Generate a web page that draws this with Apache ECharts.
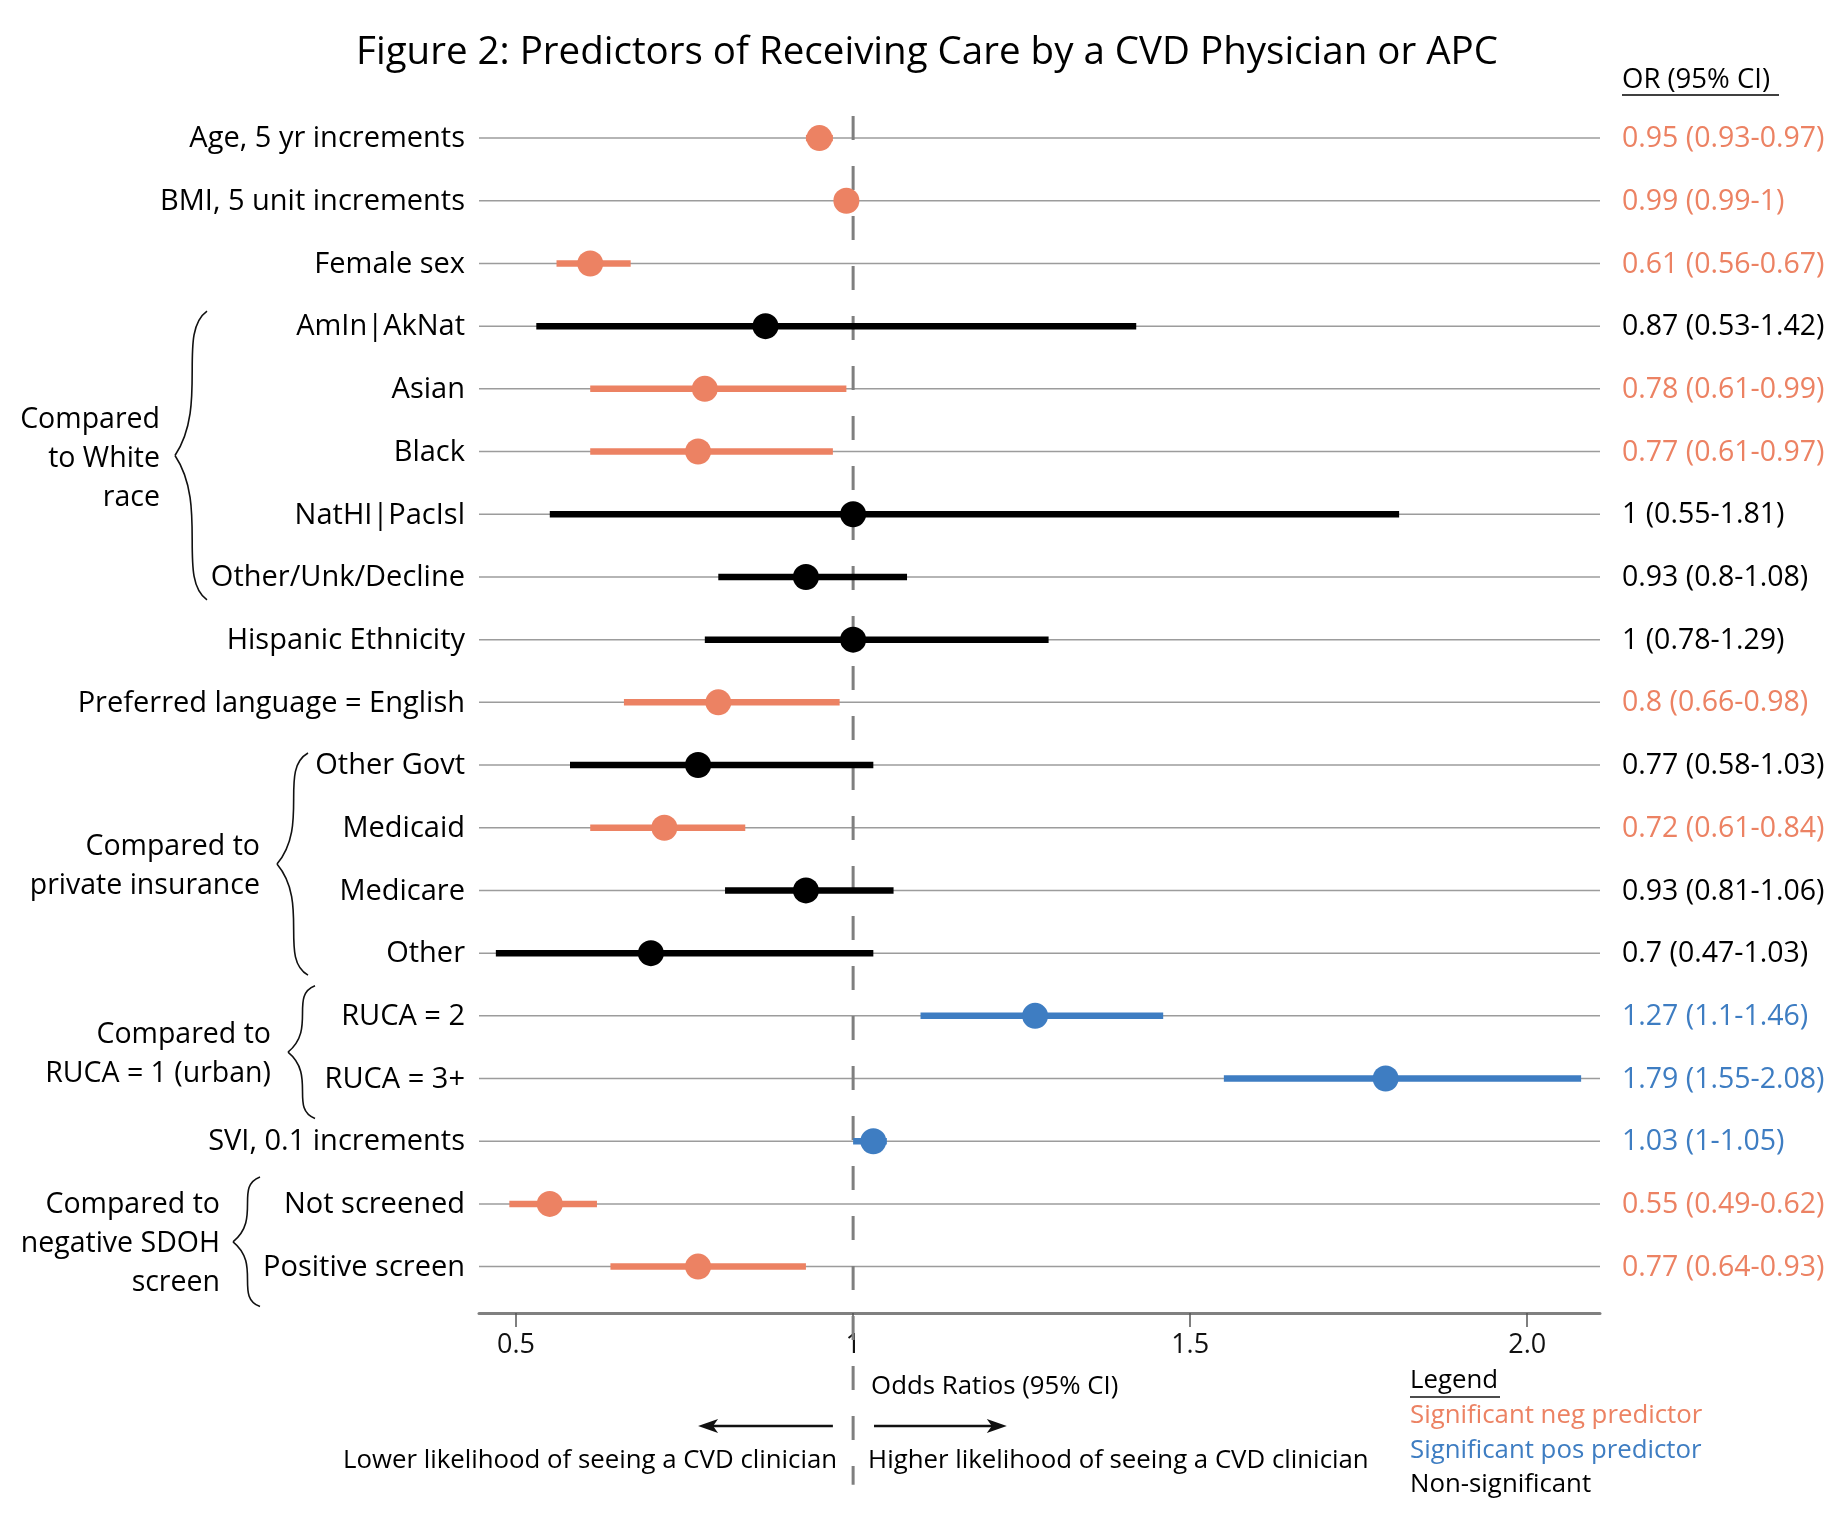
<!DOCTYPE html>
<html><head><meta charset="utf-8">
<script src="https://cdn.jsdelivr.net/npm/echarts@6/dist/echarts.min.js"></script>
<style>html,body{margin:0;padding:0;background:#fff}#c{width:1833px;height:1513px}</style>
</head><body><div id="c"></div>
<script>
// ---------- DATA ----------
const categories = ['Age, 5 yr increments','BMI, 5 unit increments','Female sex','AmIn|AkNat','Asian','Black','NatHI|PacIsl','Other/Unk/Decline','Hispanic Ethnicity','Preferred language = English','Other Govt','Medicaid','Medicare','Other','RUCA = 2','RUCA = 3+','SVI, 0.1 increments','Not screened','Positive screen'];
const oddsRatio = [0.95,0.99,0.61,0.87,0.78,0.77,1,0.93,1,0.8,0.77,0.72,0.93,0.7,1.27,1.79,1.03,0.55,0.77];
const ciLow  = [0.93,0.99,0.56,0.53,0.61,0.61,0.55,0.8,0.78,0.66,0.58,0.61,0.81,0.47,1.1,1.55,1,0.49,0.64];
const ciHigh = [0.97,1,0.67,1.42,0.99,0.97,1.81,1.08,1.29,0.98,1.03,0.84,1.06,1.03,1.46,2.08,1.05,0.62,0.93];
const significance = ['neg','neg','neg','ns','neg','neg','ns','ns','ns','neg','ns','neg','ns','ns','pos','pos','pos','neg','neg'];
const orLabels = ['0.95 (0.93-0.97)','0.99 (0.99-1)','0.61 (0.56-0.67)','0.87 (0.53-1.42)','0.78 (0.61-0.99)','0.77 (0.61-0.97)','1 (0.55-1.81)','0.93 (0.8-1.08)','1 (0.78-1.29)','0.8 (0.66-0.98)','0.77 (0.58-1.03)','0.72 (0.61-0.84)','0.93 (0.81-1.06)','0.7 (0.47-1.03)','1.27 (1.1-1.46)','1.79 (1.55-2.08)','1.03 (1-1.05)','0.55 (0.49-0.62)','0.77 (0.64-0.93)'];
const xTickValues = [0.5, 1, 1.5, 2];
const xTickLabels = ['0.5', '1', '1.5', '2.0'];
const groupLabels = ['Compared\nto White\nrace', 'Compared to\nprivate insurance', 'Compared to\nRUCA = 1 (urban)', 'Compared to\nnegative SDOH\nscreen'];
const groupFrom = [3, 10, 14, 17];
const groupTo = [7, 13, 15, 18];
const legendLabels = ['Significant neg predictor', 'Significant pos predictor', 'Non-significant'];

// ---------- STYLE ----------
const FONT = '"Open Sans", "Noto Sans", sans-serif';
const COLORS = { neg: '#EC8263', pos: '#3E7DC2', ns: '#000000' };
const X_MIN = 0.445, X_MAX = 2.108;
const Y_MIN = -0.4, Y_MAX = 18.74;
const braceStyle = [
  { xEnd: 207, xTip: 175, topOff: -15, botOff: 23, labelRight: 160, labelDy: 3 },
  { xEnd: 308, xTip: 277, topOff: -12, botOff: 22, labelRight: 260, labelDy: 2 },
  { xEnd: 315, xTip: 288, topOff: -30, botOff: 40, labelRight: 271, labelDy: 2 },
  { xEnd: 260, xTip: 233, topOff: -27, botOff: 40, labelRight: 220, labelDy: 2 }
];
function txt(x, y, text, size, fill, align, extra) {
  return { type: 'text', x: x, y: y, style: Object.assign({ text: text, align: align, verticalAlign: 'middle', textAlign: align, textVerticalAlign: 'middle', fontSize: size, fontFamily: FONT, fill: fill }, extra || {}) };
}

const rows = categories.map((c, i) => i);
const chart = echarts.init(document.getElementById('c'), null, { renderer: 'canvas' });

const option = {
  animation: false,
  backgroundColor: '#ffffff',
  grid: { left: 479, right: 233, top: 113, bottom: 200, containLabel: false },
  xAxis: {
    type: 'value', min: X_MIN, max: X_MAX, position: 'bottom',
    axisLine: { show: true, onZero: false, lineStyle: { color: '#808080', width: 3 } },
    axisTick: { show: true, customValues: xTickValues, length: 14, lineStyle: { color: '#555', width: 1.5 } },
    axisLabel: { show: true, customValues: xTickValues, margin: 19, fontSize: 27, fontFamily: FONT, color: '#111',
      formatter: v => { const k = xTickValues.indexOf(Math.round(v * 100) / 100); return k >= 0 ? xTickLabels[k] : ''; } },
    splitLine: { show: false }
  },
  yAxis: { type: 'value', inverse: true, min: Y_MIN, max: Y_MAX, show: false, splitLine: { show: false } },
  series: [
    { // row guide lines
      type: 'custom', clip: false, silent: true, z: 1,
      data: rows.map(i => [X_MIN, i]),
      renderItem: (p, api) => {
        const i = api.value(1);
        const a = api.coord([X_MIN, i]), b = api.coord([X_MAX, i]);
        return { type: 'line', shape: { x1: a[0], y1: a[1], x2: b[0], y2: b[1] }, style: { stroke: '#9c9c9c', lineWidth: 1.5 } };
      }
    },
    { // reference dashed line at OR = 1
      type: 'custom', clip: false, silent: true, z: 2,
      data: [[1, Y_MIN]],
      renderItem: (p, api) => {
        const a = api.coord([1, Y_MIN]), b = api.coord([1, 21.48]);
        return { type: 'line', shape: { x1: a[0], y1: a[1] + 3, x2: b[0], y2: b[1] }, style: { stroke: '#7f7f7f', lineWidth: 3, lineDash: [24, 26] } };
      }
    },
    { // confidence intervals
      type: 'custom', clip: false, z: 3,
      data: rows.map(i => [ciLow[i], ciHigh[i], i]),
      encode: { x: [0, 1], y: 2 },
      renderItem: (p, api) => {
        const i = api.value(2);
        const a = api.coord([api.value(0), i]), b = api.coord([api.value(1), i]);
        return { type: 'line', shape: { x1: a[0], y1: a[1], x2: b[0], y2: b[1] }, style: { stroke: COLORS[significance[i]], lineWidth: 6.5 } };
      }
    },
    { // point estimates
      type: 'scatter', z: 4, symbol: 'circle', symbolSize: 26,
      data: rows.map(i => ({ value: [oddsRatio[i], i], itemStyle: { color: COLORS[significance[i]], opacity: 1 } }))
    },
    { // row labels (left) and OR labels (right)
      type: 'custom', clip: false, silent: true, z: 5,
      data: rows.map(i => [X_MIN, i]),
      renderItem: (p, api) => {
        const i = api.value(1);
        const a = api.coord([X_MIN, i]), b = api.coord([X_MAX, i]);
        return { type: 'group', children: [
          txt(a[0] - 14, a[1] + 1, categories[i], 29, '#000', 'right'),
          txt(b[0] + 22, b[1] + 1, orLabels[i], 28.5, COLORS[significance[i]], 'left')
        ] };
      }
    }
  ]
};
chart.setOption(option);

// ---------- decorations ----------
function rowY(r) { return chart.convertToPixel({ gridIndex: 0 }, [1, r])[1]; }
function xPx(v) { return chart.convertToPixel({ gridIndex: 0 }, [v, 0])[0]; }

const graphics = [];
graphics.push(txt(927, 53, 'Figure 2: Predictors of Receiving Care by a CVD Physician or APC', 38.5, '#000', 'center'));
graphics.push(txt(1622, 80, 'OR (95% CI)', 27.5, '#000', 'left'));
graphics.push({ type: 'line', shape: { x1: 1622, y1: 95, x2: 1779, y2: 95 }, style: { stroke: '#000', lineWidth: 1.5 } });

groupLabels.forEach((lab, g) => {
  const s = braceStyle[g];
  const top = rowY(groupFrom[g]) + s.topOff;
  const bot = rowY(groupTo[g]) + s.botOff;
  const tip = (top + bot) / 2;
  const w = s.xEnd - s.xTip;
  const xm = s.xTip + w * 0.5;
  const h1 = tip - top, h2 = bot - tip;
  graphics.push({ type: 'bezierCurve', shape: { x1: s.xEnd, y1: top, cpx1: xm - w * 0.45, cpy1: top + h1 * 0.15, cpx2: xm + w * 0.55, cpy2: tip - h1 * 0.35, x2: s.xTip, y2: tip }, style: { stroke: '#111', lineWidth: 1.6, fill: null } });
  graphics.push({ type: 'bezierCurve', shape: { x1: s.xTip, y1: tip, cpx1: xm + w * 0.55, cpy1: tip + h2 * 0.35, cpx2: xm - w * 0.45, cpy2: bot - h2 * 0.15, x2: s.xEnd, y2: bot }, style: { stroke: '#111', lineWidth: 1.6, fill: null } });
  graphics.push(txt(s.labelRight, tip + s.labelDy, lab, 28.5, '#000', 'right', { lineHeight: 39 }));
});

// bottom annotations
const x1 = xPx(1);
const SMALL = 25.8;
graphics.push(txt(x1 + 18, 1387, 'Odds Ratios (95% CI)', SMALL, '#000', 'left'));
function arrow(xa, xb, y) {
  const dir = xb > xa ? 1 : -1;
  graphics.push({ type: 'line', shape: { x1: xa, y1: y, x2: xb - dir * 10, y2: y }, style: { stroke: '#111', lineWidth: 2.5 } });
  graphics.push({ type: 'polygon', shape: { points: [[xb, y], [xb - dir * 20, y - 7], [xb - dir * 15, y], [xb - dir * 20, y + 7]] }, style: { fill: '#111' } });
}
arrow(xPx(0.970), xPx(0.770), 1426);
arrow(xPx(1.031), xPx(1.228), 1426);
graphics.push(txt(x1 - 16, 1461, 'Lower likelihood of seeing a CVD clinician', SMALL, '#000', 'right'));
graphics.push(txt(x1 + 15, 1461, 'Higher likelihood of seeing a CVD clinician', SMALL, '#000', 'left'));

// legend
graphics.push(txt(1410, 1381, 'Legend', SMALL, '#000', 'left'));
graphics.push({ type: 'line', shape: { x1: 1410, y1: 1397, x2: 1500, y2: 1397 }, style: { stroke: '#111', lineWidth: 1.5 } });
const legendColors = [COLORS.neg, COLORS.pos, COLORS.ns];
const legendY = [1416, 1451, 1485];
legendLabels.forEach((t, k) => graphics.push(txt(1410, legendY[k], t, SMALL, legendColors[k], 'left')));

chart.setOption({ graphic: { elements: graphics } });
</script></body></html>
